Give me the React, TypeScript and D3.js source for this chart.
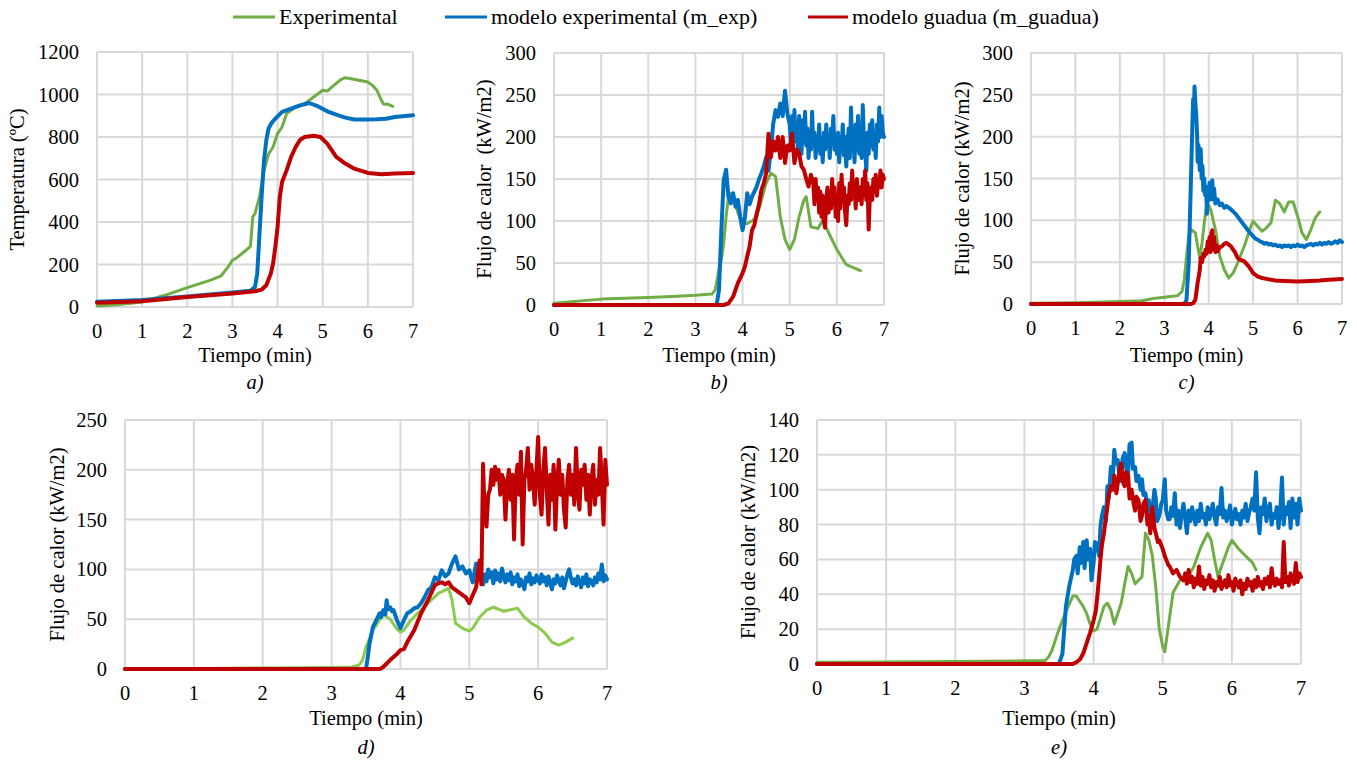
import React from 'react';
import * as d3 from 'd3';

type Pt = [number, number];

// noisy model segments were read at a regular spacing in time
const run = (t0: number, dt: number, vals: number[]): Pt[] =>
  vals.map((v, i) => [+(t0 + i * dt).toFixed(3), v] as Pt);

const minutes = [0, 1, 2, 3, 4, 5, 6, 7];
const legendNames = ['Experimental', 'modelo experimental (m_exp)', 'modelo guadua (m_guadua)'];

// a) temperatura
const aExp: Pt[] = [[0, 5], [0.5, 12], [1, 24], [1.5, 55], [2, 91], [2.5, 125], [2.75, 147], [2.9, 188], [3, 220], [3.1, 232], [3.3, 267], [3.4, 285], [3.45, 424], [3.5, 440], [3.6, 518], [3.7, 643], [3.8, 720], [3.9, 753], [4, 816], [4.1, 847], [4.2, 910], [4.4, 941], [4.6, 957], [4.8, 988], [5, 1020], [5.1, 1016], [5.2, 1035], [5.4, 1070], [5.5, 1079], [5.6, 1075], [5.8, 1067], [6, 1059], [6.1, 1043], [6.2, 1020], [6.3, 973], [6.35, 954], [6.45, 954], [6.55, 944]];
const aMexp: Pt[] = [[0, 25], [1, 33], [2, 50], [3, 68], [3.4, 76], [3.5, 94], [3.55, 157], [3.6, 345], [3.65, 533], [3.7, 690], [3.75, 784], [3.8, 839], [3.85, 860], [3.9, 875], [4, 897], [4.1, 918], [4.3, 933], [4.5, 949], [4.7, 960], [4.9, 944], [5.1, 921], [5.3, 905], [5.5, 891], [5.7, 882], [6, 882], [6.2, 883], [6.4, 886], [6.6, 894], [7, 902]];
const aMguadua: Pt[] = [[0, 20], [1, 27], [2, 47], [3, 63], [3.5, 74], [3.65, 82], [3.75, 102], [3.85, 157], [3.9, 204], [3.95, 282], [4, 376], [4.05, 518], [4.1, 588], [4.2, 643], [4.3, 706], [4.4, 753], [4.5, 787], [4.6, 800], [4.8, 806], [4.95, 800], [5.1, 769], [5.3, 706], [5.5, 675], [5.7, 651], [6, 631], [6.3, 625], [6.6, 628], [7, 631]];

// b) flujo de calor
const bExp: Pt[] = [[0, 2], [1, 7], [2, 9], [2.5, 10], [3, 11.5], [3.35, 13], [3.42, 18], [3.5, 42], [3.55, 54], [3.6, 74], [3.65, 105], [3.7, 129], [3.75, 133], [3.8, 129], [3.9, 110], [4, 97], [4.1, 97], [4.2, 100], [4.3, 105], [4.4, 125], [4.5, 145], [4.6, 157], [4.7, 153], [4.8, 105], [4.9, 78], [5, 66], [5.1, 78], [5.2, 105], [5.3, 125], [5.35, 129], [5.45, 93], [5.6, 91], [5.7, 101], [5.8, 89], [6, 66], [6.2, 48], [6.5, 41]];
const bMexp: Pt[] = [
  [0, 0], [3.45, 0], [3.5, 18], [3.55, 89], [3.6, 149], [3.65, 161], [3.7, 129], [3.75, 121], [3.8, 133], [3.85, 117], [3.9, 125], [3.95, 105], [4, 89], [4.05, 105], [4.1, 133], [4.15, 120], [4.2, 129], [4.25, 135], [4.3, 141], [4.35, 150], [4.4, 157], [4.45, 165], [4.5, 176], [4.55, 160], [4.6, 184], [4.65, 216], [4.7, 232], [4.75, 224], [4.8, 240], [4.85, 225], [4.9, 255], [4.95, 228],
  ...run(5.0, 0.025, [
    215, 190, 225, 200, 232, 195, 210, 185, 225, 205,
    180, 220, 195, 230, 190, 210, 175, 200, 185, 230,
    190, 205, 175, 200, 185, 215, 180, 195, 170, 205,
    185, 215, 190, 200, 175, 210, 195, 225, 185, 200,
    180, 205, 170, 195, 185, 215, 178, 200, 165, 190,
    210, 175, 235, 190, 200, 170, 215, 185, 225, 180,
    200, 175, 238, 195, 185, 160, 205, 180, 215, 190,
    220, 185, 205, 175, 215, 195, 235, 200, 225, 205, 200,
  ]),
];
const bMguadua: Pt[] = [
  [0, 0], [3.6, 0], [3.7, 2], [3.8, 10], [3.85, 18], [3.9, 26], [4, 38], [4.05, 46], [4.1, 58], [4.15, 70], [4.2, 89], [4.25, 95], [4.3, 109], [4.35, 120], [4.4, 137], [4.45, 145],
  ...run(4.5, 0.05, [157, 204, 176, 195, 184, 200, 175, 200, 169, 190, 184, 204, 169, 185, 180, 165, 161, 150, 141, 155]),
  ...run(5.5, 0.025, [
    145, 120, 150, 125, 140, 110, 135, 105, 130, 100,
    92, 125, 140, 110, 135, 115, 150, 120, 140, 105,
    130, 100, 145, 115, 155, 125, 140, 110, 95, 130,
    120, 145, 125, 160, 130, 140, 115, 150, 125, 135,
    140, 120, 150, 130, 160, 125, 145, 90, 130, 140,
    125, 150, 135, 155, 130, 145, 140, 160, 140, 155, 150,
  ]),
];

// c) flujo de calor
const cExp: Pt[] = [[0, 1], [1, 1.5], [2, 3], [2.5, 4], [2.8, 7], [3, 8], [3.3, 10], [3.4, 15], [3.45, 29], [3.5, 57], [3.55, 81], [3.6, 89], [3.7, 85], [3.75, 69], [3.8, 55], [3.85, 73], [3.9, 97], [3.95, 117], [4, 118], [4.05, 112], [4.15, 89], [4.25, 57], [4.35, 41], [4.45, 31], [4.55, 37], [4.65, 49], [4.8, 69], [4.95, 93], [5, 99], [5.1, 93], [5.2, 87], [5.3, 91], [5.4, 97], [5.5, 124], [5.6, 120], [5.7, 110], [5.8, 122], [5.9, 122], [6, 105], [6.1, 85], [6.2, 77], [6.3, 89], [6.4, 103], [6.5, 110]];
const cMexp: Pt[] = [
  [0, 0], [3.45, 0], [3.5, 5], [3.55, 49], [3.6, 148], [3.63, 210], [3.65, 245], [3.67, 230], [3.68, 260], [3.7, 240], [3.72, 225], [3.74, 200], [3.75, 170], [3.77, 190], [3.8, 160], [3.82, 185], [3.84, 150], [3.86, 165], [3.88, 135], [3.9, 150], [3.92, 130], [3.94, 140], [3.96, 108], [3.98, 140], [4, 130], [4.02, 145], [4.04, 125], [4.06, 140], [4.08, 148], [4.1, 125], [4.12, 138], [4.15, 120], [4.2, 125], [4.25, 118], [4.3, 120], [4.35, 115], [4.4, 117], [4.5, 113], [4.6, 108], [4.7, 101], [4.8, 94], [4.9, 87], [4.95, 84],
  ...run(5.0, 0.05, [81, 78, 77, 75, 74, 72, 73, 71, 72, 70, 71, 69, 70, 68, 70, 69, 70, 68, 70, 69, 71, 69, 70, 68, 70, 71, 72, 70, 72, 71, 73, 71, 73, 72, 74, 72, 73, 75, 73, 76, 74]),
];
const cMguadua: Pt[] = [[0, 0], [3.6, 0], [3.65, 1], [3.7, 5], [3.75, 25], [3.8, 41], [3.82, 55], [3.85, 50], [3.88, 60], [3.9, 57], [3.93, 65], [3.95, 60], [3.98, 75], [4, 70], [4.02, 80], [4.04, 62], [4.06, 85], [4.08, 88], [4.1, 65], [4.12, 80], [4.15, 62], [4.18, 70], [4.2, 63], [4.25, 68], [4.3, 69], [4.35, 72], [4.4, 73], [4.45, 71], [4.5, 69], [4.55, 65], [4.6, 61], [4.65, 55], [4.7, 53], [4.75, 52], [4.8, 51], [4.85, 48], [4.9, 45], [4.95, 41], [5, 37], [5.1, 33], [5.2, 31], [5.3, 30], [5.5, 28], [5.7, 27.5], [6, 27], [6.3, 27.5], [6.5, 28], [6.7, 29], [7, 30]];

// d) flujo de calor
const dExp: Pt[] = [[0, 0.5], [1, 0.6], [2, 1], [3, 1.5], [3.3, 2], [3.4, 4], [3.45, 9], [3.5, 22], [3.6, 39], [3.65, 44], [3.75, 55], [3.85, 50], [3.95, 40], [4, 37], [4.05, 39], [4.15, 49], [4.25, 56], [4.4, 66], [4.55, 76], [4.7, 81], [4.75, 69], [4.8, 46], [4.9, 41], [5, 38], [5.05, 41], [5.15, 52], [5.25, 59], [5.35, 62], [5.5, 58], [5.7, 61], [5.8, 52], [5.9, 46], [6, 42], [6.1, 36], [6.2, 27], [6.3, 24], [6.4, 27], [6.5, 31]];
const dMexp: Pt[] = [
  [0, 0], [3.5, 0], [3.52, 9], [3.55, 25], [3.6, 42], [3.65, 49], [3.7, 56], [3.72, 52], [3.75, 59], [3.78, 55], [3.8, 69], [3.82, 60], [3.85, 62], [3.88, 58], [3.9, 59], [3.95, 49], [4, 41], [4.05, 49], [4.1, 56], [4.15, 58], [4.2, 61], [4.25, 62], [4.3, 66], [4.35, 72], [4.4, 79], [4.45, 82], [4.5, 92], [4.55, 89], [4.6, 99], [4.65, 93], [4.7, 96], [4.75, 106], [4.8, 113], [4.85, 100], [4.9, 103], [4.95, 96], [5, 99], [5.05, 87], [5.1, 106], [5.15, 92],
  ...run(5.2, 0.025, [
    85, 95, 88, 100, 92, 97, 86, 99,
    90, 96, 88, 101, 93, 87, 95, 89,
    97, 85, 92, 88, 95, 83, 90, 86,
    80, 92, 88, 96, 85, 91, 87, 94,
    90, 86, 95, 88, 92, 84, 93, 87,
    80, 90, 86, 94, 89, 84, 92, 81,
    88, 95, 100, 92, 86, 90, 84, 93,
    88, 82, 92, 86, 95, 83, 90, 88,
    84, 92, 87, 96, 90, 105, 88, 94,
    90,
  ]),
];
const dMguadua: Pt[] = [
  [0, 0], [3.7, 0], [3.75, 2], [3.85, 9], [3.95, 15], [4, 19], [4.05, 20], [4.1, 27], [4.2, 39], [4.3, 56], [4.4, 69], [4.5, 84], [4.55, 86], [4.6, 87], [4.65, 85], [4.7, 87], [4.75, 82], [4.85, 77], [4.95, 72], [5, 66], [5.05, 74], [5.1, 82], [5.15, 109], [5.175, 85],
  ...run(5.2, 0.025, [
    206, 150, 143, 175, 180, 200, 185, 203,
    190, 200, 175, 195, 190, 150, 185, 200,
    170, 195, 130, 190, 205, 175, 218, 125,
    190, 200, 222, 180, 205, 190, 165, 200,
    233, 175, 155, 200, 222, 180, 145, 195,
    170, 205, 140, 185, 210, 175, 195, 160,
    142, 190, 205, 175, 195, 165, 222, 180,
    160, 200, 185, 205, 170, 195, 155, 190,
    205, 165, 190, 175, 222, 185, 145, 210,
    185,
  ]),
];

// e) flujo de calor
const eExp: Pt[] = [[0, 1], [1, 1.2], [2, 1.5], [3, 1.8], [3.3, 2], [3.35, 4], [3.4, 8], [3.5, 20], [3.6, 30], [3.7, 39], [3.75, 39], [3.85, 33], [3.9, 29], [3.95, 23], [4, 19], [4.05, 20], [4.15, 33], [4.2, 35], [4.25, 31], [4.3, 23], [4.35, 29], [4.4, 35], [4.45, 46], [4.5, 56], [4.55, 52], [4.6, 46], [4.7, 50], [4.75, 75], [4.8, 71], [4.85, 62], [4.9, 44], [4.95, 20], [5, 10], [5.03, 7], [5.1, 27], [5.15, 41], [5.25, 48], [5.35, 49], [5.45, 56], [5.55, 67], [5.65, 75], [5.7, 71], [5.75, 60], [5.8, 50], [5.85, 56], [5.95, 67], [6, 71], [6.1, 66], [6.2, 62], [6.3, 58], [6.35, 54]];
const eMexp: Pt[] = [
  [0, 0], [3.5, 0], [3.55, 6], [3.6, 33], [3.65, 45], [3.7, 54], [3.72, 60], [3.75, 62], [3.77, 52], [3.8, 67], [3.82, 58], [3.85, 70], [3.87, 55], [3.9, 71], [3.92, 60], [3.95, 66], [3.97, 48], [4, 58], [4.02, 70], [4.05, 69], [4.08, 62], [4.1, 79], [4.12, 85], [4.15, 90], [4.18, 82], [4.2, 102], [4.22, 95], [4.25, 113], [4.28, 108], [4.3, 123], [4.32, 115], [4.35, 117], [4.38, 105], [4.4, 106], [4.42, 118], [4.45, 121], [4.48, 110], [4.5, 109], [4.52, 126], [4.55, 127], [4.57, 112], [4.6, 113], [4.62, 105], [4.65, 108], [4.68, 100], [4.7, 106], [4.72, 97], [4.75, 98], [4.78, 90], [4.8, 94], [4.82, 86], [4.85, 88], [4.88, 100], [4.9, 95], [4.92, 82], [4.95, 85], [4.98, 92], [5, 94], [5.03, 106], [5.05, 88], [5.08, 83],
  ...run(5.1, 0.025, [
    83, 90, 85, 98, 80, 88, 78, 86,
    92, 84, 75, 88, 82, 90, 85, 80,
    88, 82, 92, 84, 86, 80, 90, 83,
    87, 92, 84, 80, 90, 86, 101, 84,
    88, 82, 86, 91, 80, 85, 89, 83,
    86, 80, 88, 84, 92, 82, 87, 90,
    95, 88, 110, 84, 75, 90, 86, 95,
    82, 88, 92, 80, 86, 84, 90, 78,
    88, 107, 80, 90, 86, 93, 78, 95,
    84, 92, 80, 95, 88,
  ]),
];
const eMguadua: Pt[] = [
  [0, 0], [3.7, 0], [3.75, 1], [3.8, 2.5], [3.85, 6], [3.9, 12], [3.95, 18], [4, 25], [4.03, 30], [4.05, 37], [4.08, 50], [4.1, 60], [4.12, 68], [4.15, 75], [4.18, 85], [4.2, 90], [4.22, 97], [4.25, 102], [4.28, 100], [4.3, 108], [4.33, 98], [4.35, 104], [4.38, 112], [4.4, 115], [4.42, 105], [4.45, 102], [4.47, 110], [4.5, 108], [4.52, 95], [4.55, 100], [4.58, 92], [4.6, 88], [4.62, 96], [4.65, 94], [4.68, 82], [4.7, 85], [4.72, 92], [4.75, 94], [4.78, 80], [4.8, 85], [4.82, 75], [4.85, 90], [4.88, 78], [4.9, 75], [4.93, 70], [4.95, 71], [5, 66], [5.03, 62], [5.05, 60], [5.08, 57], [5.1, 56], [5.15, 52], [5.2, 54], [5.25, 50],
  ...run(5.3, 0.025, [
    48, 52, 46, 54, 47, 50, 44, 49,
    46, 56, 45, 50, 43, 48, 46, 51,
    44, 48, 42, 47, 45, 50, 43, 46,
    48, 44, 51, 45, 47, 42, 49, 46,
    44, 48, 40, 46, 43, 49, 45, 47,
    42, 48, 44, 50, 45, 47, 43, 49,
    46, 50, 44, 55, 47, 45, 49, 46,
    48, 44, 70, 47, 50, 45, 52, 48,
    46, 58, 47, 52, 50,
  ]),
];

const FONT = 'Liberation Serif';
const GREEN = '#70AD47';
const BLUE = '#0070C0';
const RED = '#C00000';
const GRID = '#D9D9D9';

type Panel = {
  left: number; right: number; top: number; bottom: number;
  yMax: number; yStep: number;
  yTitle: string; yTitleX: number;
  label: string; xTitleY: number; labelY: number;
  exp: Pt[]; mexp: Pt[]; mguadua: Pt[]; expColor: string;
};

const panels: Panel[] = [
  { left: 97, right: 413, top: 52, bottom: 307, yMax: 1200, yStep: 200, yTitle: 'Temperatura (ºC)', yTitleX: 17, label: 'a)', xTitleY: 362, labelY: 389, exp: aExp, mexp: aMexp, mguadua: aMguadua, expColor: GREEN },
  { left: 554, right: 884, top: 53, bottom: 305, yMax: 300, yStep: 50, yTitle: 'Flujo de calor\u00a0\u00a0(kW/m2)', yTitleX: 484, label: 'b)', xTitleY: 362, labelY: 389, exp: bExp, mexp: bMexp, mguadua: bMguadua, expColor: GREEN },
  { left: 1031, right: 1342, top: 53, bottom: 304, yMax: 300, yStep: 50, yTitle: 'Flujo de calor (kW/m2)', yTitleX: 962, label: 'c)', xTitleY: 362, labelY: 389, exp: cExp, mexp: cMexp, mguadua: cMguadua, expColor: GREEN },
  { left: 125, right: 607, top: 420, bottom: 669, yMax: 250, yStep: 50, yTitle: 'Flujo de calor (kW/m2)', yTitleX: 57, label: 'd)', xTitleY: 725, labelY: 754, exp: dExp, mexp: dMexp, mguadua: dMguadua, expColor: '#8CCB4E' },
  { left: 817, right: 1301, top: 420, bottom: 664, yMax: 140, yStep: 20, yTitle: 'Flujo de calor (kW/m2)', yTitleX: 748, label: 'e)', xTitleY: 725, labelY: 754, exp: eExp, mexp: eMexp, mguadua: eMguadua, expColor: GREEN },
];

function Chart({ p }: { p: Panel }) {
  const x = d3.scaleLinear().domain([0, 7]).range([p.left, p.right]);
  const y = d3.scaleLinear().domain([0, p.yMax]).range([p.bottom, p.top]);
  const yTicks = d3.range(0, p.yMax + 1, p.yStep);
  const line = d3.line<Pt>().x(d => x(d[0])).y(d => y(d[1]));
  const midX = (p.left + p.right) / 2;
  const midY = (p.top + p.bottom) / 2;

  return (
    <g>
      {minutes.map(t => (
        <line key={'gx' + t} x1={x(t)} x2={x(t)} y1={p.top} y2={p.bottom} stroke={GRID} strokeWidth={2} />
      ))}
      {yTicks.map(v => (
        <line key={'gy' + v} x1={p.left} x2={p.right} y1={y(v)} y2={y(v)} stroke={GRID} strokeWidth={2} />
      ))}
      {yTicks.map(v => (
        <text key={'ty' + v} x={p.left - 18} y={y(v) + 7} textAnchor="end" fontSize={20.5} fontFamily={FONT}>{v}</text>
      ))}
      {minutes.map(t => (
        <text key={'tx' + t} x={x(t)} y={p.bottom + 31} textAnchor="middle" fontSize={20.5} fontFamily={FONT}>{t}</text>
      ))}
      <path d={line(p.exp) || ''} fill="none" stroke={p.expColor} strokeWidth={3} strokeLinejoin="round" strokeLinecap="round" />
      <path d={line(p.mexp) || ''} fill="none" stroke={BLUE} strokeWidth={4} strokeLinejoin="round" strokeLinecap="round" />
      <path d={line(p.mguadua) || ''} fill="none" stroke={RED} strokeWidth={4} strokeLinejoin="round" strokeLinecap="round" />
      <text x={midX} y={p.xTitleY} textAnchor="middle" fontSize={20.5} fontFamily={FONT}>Tiempo (min)</text>
      <text transform={`translate(${p.yTitleX + 7},${midY}) rotate(-90)`} textAnchor="middle" fontSize={20.5} fontFamily={FONT}>{p.yTitle}</text>
      <text x={midX} y={p.labelY} textAnchor="middle" fontSize={20.5} fontStyle="italic" fontFamily={FONT}>{p.label}</text>
    </g>
  );
}

const legendItems = [
  { name: legendNames[0], color: GREEN, x0: 233, x1: 275 },
  { name: legendNames[1], color: BLUE, x0: 445, x1: 487 },
  { name: legendNames[2], color: RED, x0: 808, x1: 848 },
];

export default function App() {
  return (
    <svg width={1357} height={760} style={{ position: 'absolute', left: 0, top: 0, background: '#fff' }}>
      <style>{`text { font-family: 'Liberation Serif', 'Tinos', 'FreeSerif', serif !important; }`}</style>
      <rect width={1357} height={760} fill="#fff" />
      {legendItems.map(it => (
        <g key={it.name}>
          <line x1={it.x0} x2={it.x1} y1={17} y2={17} stroke={it.color} strokeWidth={3} />
          <text x={it.x1 + 4} y={24} fontSize={22} fontFamily={FONT}>{it.name}</text>
        </g>
      ))}
      {panels.map(p => <Chart key={p.label} p={p} />)}
    </svg>
  );
}
